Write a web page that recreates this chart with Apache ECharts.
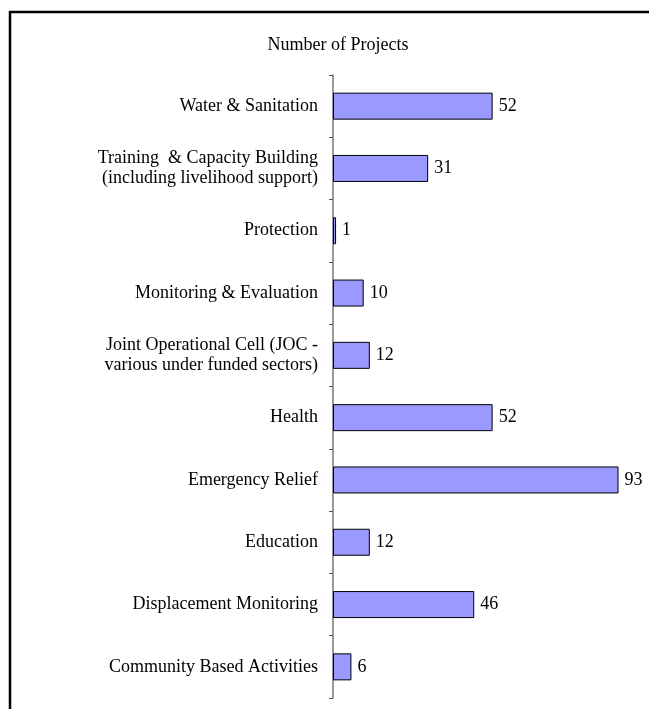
<!DOCTYPE html>
<html>
<head>
<meta charset="utf-8">
<script src="https://cdn.jsdelivr.net/npm/echarts@6/dist/echarts.min.js"></script>
<style>
html,body{margin:0;padding:0;background:#fff;}
#main{width:649px;height:709px;}
</style>
</head>
<body>
<div id="main"></div>
<script>
// categories bottom to top (category axis starts at the bottom)
var categories = [
	'Community Based Activities',
	'Displacement Monitoring',
	'Education',
	'Emergency Relief',
	'Health',
	'Joint Operational Cell (JOC -\nvarious under funded sectors)',
	'Monitoring & Evaluation',
	'Protection',
	'Training  & Capacity Building\n(including livelihood support)',
	'Water & Sanitation'
];
var projects = [6, 46, 12, 93, 52, 12, 10, 1, 31, 52];

var font = '"Liberation Serif", "Times New Roman", serif';

var myChart = echarts.init(document.getElementById('main'));
var option = {
	backgroundColor: '#fff',
	animation: false,
	title: {
		text: 'Number of Projects',
		left: 333,
		top: 31,
		textAlign: 'center',
		textStyle: {fontFamily: font, fontSize: 18, fontWeight: 'normal', color: '#000'}
	},
	// frame: only left and top edges fall inside the picture
	graphic: [{
		type: 'rect',
		shape: {x: 10, y: 12, width: 700, height: 740},
		style: {fill: null, stroke: '#000', lineWidth: 2.5},
		silent: true
	}],
	grid: {
		left: 333,
		top: 75,
		width: 307,
		height: 623
	},
	xAxis: {
		type: 'value',
		min: 0,
		max: 100,
		show: false
	},
	yAxis: {
		type: 'category',
		data: categories,
		axisLine: {lineStyle: {color: '#777', width: 1.5}},
		axisTick: {show: true, length: 4, lineStyle: {color: '#555'}},
		axisLabel: {
			margin: 15,
			fontFamily: font,
			fontSize: 18,
			color: '#000',
			lineHeight: 20,
			align: 'right'
		}
	},
	series: [{
		name: 'Number of Projects',
		type: 'bar',
		data: projects,
		barWidth: 27,
		itemStyle: {color: '#9999FF', borderColor: '#000', borderWidth: 1},
		label: {
			show: true,
			position: 'right',
			distance: 6,
			fontFamily: font,
			fontSize: 18,
			color: '#000'
		}
	}]
};
myChart.setOption(option);
</script>
</body>
</html>
